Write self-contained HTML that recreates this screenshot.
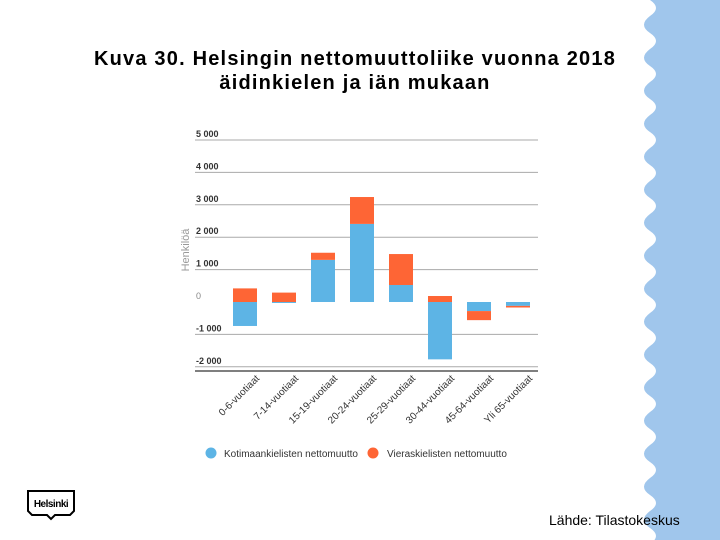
<!DOCTYPE html>
<html><head><meta charset="utf-8"><style>
body{margin:0;width:720px;height:540px;background:#fff;overflow:hidden;font-family:"Liberation Sans",sans-serif;position:relative}
#title{position:absolute;left:40px;top:47px;width:630px;text-align:center;font-weight:bold;font-size:20px;line-height:24px;letter-spacing:1.2px;color:#000}
#src{position:absolute;left:549px;top:512px;font-size:14px;color:#000}
</style></head><body>
<svg width="720" height="540" style="position:absolute;left:0;top:0">
<path id="wave" fill="#a0c6ec"/>
<g>
<path d="M28,491 H74 V511 L70,515 H55 L51,519 L47,515 H32 L28,511 Z" fill="#fff" stroke="#000" stroke-width="2"/>
<text x="51" y="507" font-size="10" font-weight="bold" text-anchor="middle" font-family="Liberation Sans,sans-serif" letter-spacing="-0.5">Helsinki</text>
</g>
<g id="chart"></g>
</svg>
<div id="title">Kuva 30. Helsingin nettomuuttoliike vuonna 2018<br>äidinkielen ja iän mukaan</div>
<div id="src">Lähde: Tilastokeskus</div>
<script>
const categories=["0-6-vuotiaat","7-14-vuotiaat","15-19-vuotiaat","20-24-vuotiaat","25-29-vuotiaat","30-44-vuotiaat","45-64-vuotiaat","Yli 65-vuotiaat"];
const domestic=[-740,-30,1300,2410,525,-1770,-280,-120];
const foreign=[420,290,220,830,955,185,-280,-50];
const ticks=[5000,4000,3000,2000,1000,0,-1000,-2000];
const tickLabels=["5 000","4 000","3 000","2 000","1 000","0","-1 000","-2 000"];
const NS="http://www.w3.org/2000/svg";
let d="M720,0 L650,0";
for(let y=0;y<560;y+=33){d+=` Q662,${y+8} 650,${y+16} Q638,${y+25} 650,${y+33}`;}
d+=" L720,560 Z";
document.getElementById('wave').setAttribute('d',d);
const g=document.getElementById('chart');
const y0=302, k=32.4/1000;
const Y=v=>y0-v*k;
const X=i=>233+i*39;
function el(t,a){const e=document.createElementNS(NS,t);for(const key in a)e.setAttribute(key,a[key]);g.appendChild(e);return e;}
ticks.forEach((t,i)=>{
 if(t!==0){const l=el('line',{x1:195,x2:538,y1:Y(t),y2:Y(t),stroke:'#aaa','stroke-width':1});
 
 }
 const tx=el('text',{x:196,y:Y(t)-3,'font-size':9,fill:t===0?'#888':'#333','font-weight':t===0?'normal':'bold','font-family':'Liberation Sans,sans-serif'});
 tx.textContent=tickLabels[i];
 
 
});
const ax=el('line',{x1:195,x2:538,y1:371,y2:371,stroke:'#333','stroke-width':1.2});


const yt=el('text',{transform:'translate(189,250) rotate(-90)','text-anchor':'middle','font-size':11,fill:'#999','font-family':'Liberation Sans,sans-serif'});
yt.textContent='Henkilöä';


categories.forEach((c,i)=>{
 const x=X(i);
 const b=domestic[i], f=foreign[i];
 const r1=el('rect',{x:x,width:24,y:Math.min(Y(b),y0),height:Math.abs(b*k),fill:'#5db4e5'});
 
 
 let base=(f>=0)?(b>0?b:0):(b<0?b:0);
 const top=base+f;
 const r2=el('rect',{x:x,width:24,y:Math.min(Y(base),Y(top)),height:Math.abs(f*k),fill:'#fe6535'});
 
 
 const lt=el('text',{transform:`translate(${x+27},379) rotate(-45)`,'text-anchor':'end','font-size':10,fill:'#333','font-family':'Liberation Sans,sans-serif'});
 lt.textContent=c;
 
 
});
const c1=el('circle',{cx:211,cy:453,r:5.5,fill:'#5db4e5'});


const t1=el('text',{x:224,y:457,'font-size':10,fill:'#333','font-family':'Liberation Sans,sans-serif'});
t1.textContent='Kotimaankielisten nettomuutto';


const c2=el('circle',{cx:373,cy:453,r:5.5,fill:'#fe6535'});


const t2=el('text',{x:387,y:457,'font-size':10,fill:'#333','font-family':'Liberation Sans,sans-serif'});
t2.textContent='Vieraskielisten nettomuutto';


</script>
</body></html>
